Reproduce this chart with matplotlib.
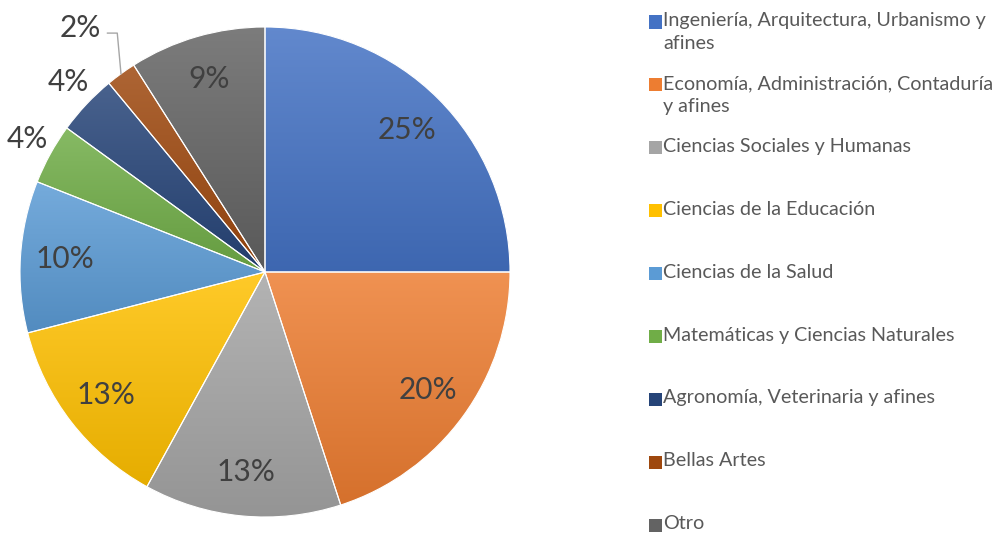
import numpy as np
import matplotlib
matplotlib.use('Agg')
import matplotlib.pyplot as plt
import matplotlib.colors as mcolors
from matplotlib.patches import Rectangle, Wedge

plt.rcParams['font.family'] = ['Lato', 'DejaVu Sans']

#---------------data---------------------
categorias = ['Ingeniería, Arquitectura, Urbanismo y\nafines',
              'Economía, Administración, Contaduría\ny afines',
              'Ciencias Sociales y Humanas',
              'Ciencias de la Educación',
              'Ciencias de la Salud',
              'Matemáticas y Ciencias Naturales',
              'Agronomía, Veterinaria y afines',
              'Bellas Artes',
              'Otro']
porcentajes = [25, 20, 13, 13, 10, 4, 4, 2, 9]
colores = ['#4472C4', '#ED7D31', '#A5A5A5', '#FFC000', '#5B9BD5',
           '#70AD47', '#264478', '#9E480E', '#636363']
#----------------------------------------

def shade(c, f):
    # f>0 lighter, f<0 darker
    rgb = np.array(mcolors.to_rgb(c))
    if f > 0:
        return rgb + (1 - rgb) * f
    return rgb * (1 + f)

fig = plt.figure(figsize=(9.98, 5.33), dpi=100)
W, H = 998.0, 533.0
cx, cy, R = 265.0, 272.0, 245.0
ax = fig.add_axes([(cx - R) / W, (H - cy - R) / H, 2 * R / W, 2 * R / H])

wedges, _ = ax.pie(porcentajes, colors=colores, startangle=90, counterclock=False,
                   radius=1, wedgeprops=dict(edgecolor='white', linewidth=0.8))

# gradient fill, lighter at top, darker at bottom
for w, c in zip(wedges, colores):
    ext = w.get_path().get_extents()
    top = shade(c, 0.16)
    bot = shade(c, -0.10)
    t = np.linspace(0, 1, 256)[:, None, None]
    img = top[None, None, :] * (1 - t) + bot[None, None, :] * t
    img = np.repeat(img, 2, axis=1)
    im = ax.imshow(img, extent=[ext.x0, ext.x1, ext.y0, ext.y1], origin='upper',
                   aspect='auto', zorder=w.get_zorder() + 0.1, interpolation='bilinear')
    im.set_clip_path(w)
    edge = Wedge(w.center, w.r, w.theta1, w.theta2, facecolor='none',
                 edgecolor='white', linewidth=0.8, zorder=w.get_zorder() + 0.2)
    ax.add_patch(edge)
ax.set_xlim(-1, 1)
ax.set_ylim(-1, 1)
ax.axis('off')

# labels
total = float(sum(porcentajes))
cum = 0
for i, p in enumerate(porcentajes):
    mid = 90 - 360 * (cum + p / 2.0) / total
    cum += p
    a = np.deg2rad(mid)
    dx = 0.0
    if p >= 9:
        r = 0.82
    elif p >= 4:
        r = 1.13
        dx = 0.02
    else:
        r = 1.23
        dx = -0.03
    x, y = r * np.cos(a) + dx, r * np.sin(a)
    ax.text(x, y, '%d%%' % p, ha='center', va='center', fontsize=21.5,
            color='#404040', clip_on=False)
    if p < 4:
        ex, ey = 1.0 * np.cos(a), 1.0 * np.sin(a)
        ax.plot([x + 0.11, x + 0.15, ex], [y - 0.02, y - 0.02, ey],
                color='#A6A6A6', lw=1, clip_on=False, zorder=5)

# legend
y0 = 22.0
for i, (lab, c) in enumerate(zip(categorias, colores)):
    yy = y0 + 62.9 * i
    sq = Rectangle((649 / W, 1 - (yy + 6.5) / H), 13 / W, 13 / H,
                   transform=fig.transFigure, facecolor=c, edgecolor='none')
    fig.patches.append(sq)
    fig.text(663 / W, 1 - (yy - 10) / H, lab, ha='left', va='top',
             fontsize=14.2, color='#595959', linespacing=1.45)

fig.savefig('out.png', dpi=100)
